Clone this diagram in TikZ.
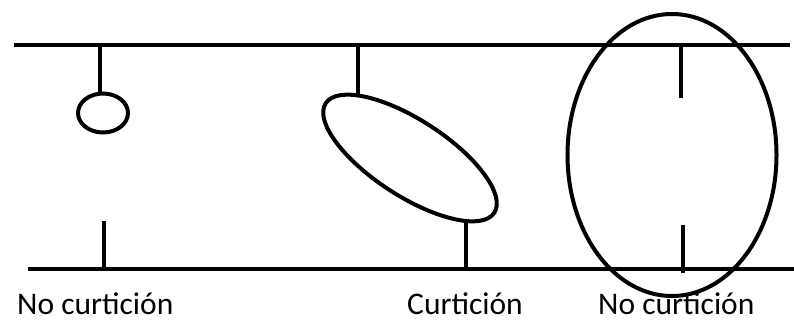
\documentclass[tikz,border=0pt]{standalone}
\usepackage{fontspec}
\setmainfont{Carlito}
\usetikzlibrary{shapes.geometric}

\begin{document}
\begin{tikzpicture}[x=1pt, y=-1pt,
  rail/.style={line width=4pt},
  stem/.style={line width=3.3pt},
  cell/.style={draw, ellipse, line width=4pt, inner sep=0pt},
  lbl/.style={font=\fontsize{31.5}{37}\selectfont, inner sep=0pt}]
  \useasboundingbox (0,0) rectangle (794,322);
  % rails
  \coordinate (t0) at (14,45);  \coordinate (t1) at (790,45);
  \coordinate (b0) at (28,269); \coordinate (b1) at (794,269);
  \draw[rail] (t0) -- (t1);
  \draw[rail] (b0) -- (b1);
  % small cell
  \node[cell, minimum width=50pt, minimum height=39pt] (c1) at (103,113) {};
  \coordinate (c1t) at (100,45);  \coordinate (c1u) at (100,94);
  \coordinate (c1b) at (104,269); \coordinate (c1e) at (104,221);
  \draw[stem] (c1t) -- (c1u);
  \draw[stem] (c1b) -- (c1e);
  % tilted cell
  \node[cell, minimum width=201pt, minimum height=76pt, rotate=-33] (c2) at (410,158) {};
  \coordinate (c2t) at (358,45);  \coordinate (c2u) at (358,96);
  \coordinate (c2b) at (466,269); \coordinate (c2d) at (466,222);
  \draw[stem] (c2t) -- (c2u);
  \draw[stem] (c2b) -- (c2d);
  % large cell
  \node[cell, minimum width=209pt, minimum height=282pt] (c3) at (672,155) {};
  \coordinate (c3t) at (681,45);  \coordinate (c3u) at (681,98);
  \coordinate (c3b) at (683,273); \coordinate (c3d) at (683,225);
  \draw[stem] (c3t) -- (c3u);
  \draw[stem] (c3b) -- (c3d);
  % labels
  \node[lbl, anchor=base west] (l1) at (17,314) {No curtición};
  \node[lbl, anchor=base] (l2) at (465,314) {Curtición};
  \node[lbl, anchor=base west] (l3) at (598,314) {No curtición};
\end{tikzpicture}
\end{document}
